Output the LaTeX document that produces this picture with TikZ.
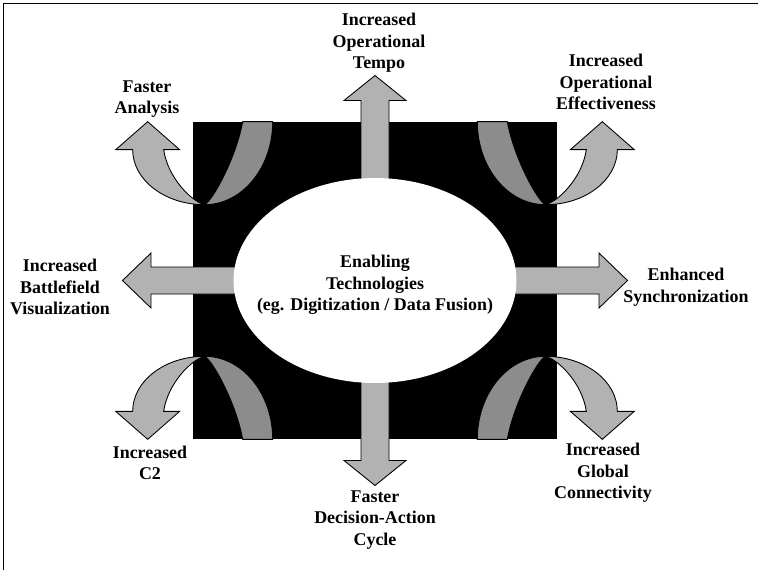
\documentclass[tikz,border=0pt]{standalone}
\usepackage{fontspec}
\setmainfont{Liberation Serif}
\usetikzlibrary{shapes.geometric}

\definecolor{arrowlight}{gray}{0.70}
\definecolor{arrowdark}{gray}{0.55}

\tikzset{
  lbl/.style={font=\bfseries\fontsize{10.2}{12.3}\selectfont, align=center},
  blockarrow/.style={draw=black, fill=arrowlight, line width=0.5pt, line join=miter},
  % ribbon arrow that leaves the panel at a corner
  twist/.pic={
    \filldraw[fill=arrowdark, draw=black, line width=0.5pt]
      (80,0) arc[start angle=0, end angle=-90, x radius=68, y radius=83]
      .. controls (19,-80) and (43,-38) .. (50,0) -- cycle;
    \filldraw[blockarrow]
      (12,-83) arc[start angle=-90, end angle=-180, x radius=72, y radius=55]
      -- (-77,-28) -- (-45,0) -- (-13,-28) -- (-29,-28)
      .. controls (-25,-56) and (-1,-80) .. (12,-83) -- cycle;
  }
}

\begin{document}
\begin{tikzpicture}[x=0.02cm, y=0.02cm]
  \useasboundingbox (0,0) rectangle (758,-569);
  % frame
  \draw[line width=1pt] (3.5,-575) -- (3.5,-3.5) -- (765,-3.5);

  % black panel
  \node[fill=black, minimum width=7.28cm, minimum height=6.34cm, inner sep=0pt] (panel) at (375,-280.5) {};

  % corner arrows
  \pic at (panel.north west) {twist};
  \pic[xscale=-1] at (panel.north east) {twist};
  \pic[yscale=-1] at (panel.south west) {twist};
  \pic[xscale=-1, yscale=-1] at (panel.south east) {twist};

  % straight arrows
  \filldraw[blockarrow] (361,-200) -- (361,-100.5) -- (344,-100.5) -- (375,-75.5) -- (406,-100.5) -- (389,-100.5) -- (389,-200) -- cycle;
  \filldraw[blockarrow] (361,-360) -- (361,-460.5) -- (344,-460.5) -- (375,-485.5) -- (406,-460.5) -- (389,-460.5) -- (389,-360) -- cycle;
  \filldraw[blockarrow] (260,-267) -- (151,-267) -- (151,-253) -- (122.5,-280.5) -- (151,-308) -- (151,-294) -- (260,-294) -- cycle;
  \filldraw[blockarrow] (490,-267) -- (599,-267) -- (599,-253) -- (627.5,-280.5) -- (599,-308) -- (599,-294) -- (490,-294) -- cycle;

  % centre
  \node[ellipse, fill=white, minimum width=5.66cm, minimum height=4.1cm, inner sep=0pt] (hub) at (375,-280.5) {};
  \node[lbl] (hubtext) at (375,-285) {Enabling\\Technologies\\(eg. Digitization / Data Fusion)};

  % labels
  \node[lbl] (analysis) at (147,-99) {Faster\\Analysis};
  \node[lbl] (tempo) at (379,-43) {Increased\\Operational\\Tempo};
  \node[lbl] (effect) at (606,-82) {Increased\\Operational\\Effectiveness};
  \node[lbl] (visual) at (60,-287) {Increased\\Battlefield\\Visualization};
  \node[lbl] (sync) at (686,-287) {Enhanced\\Synchronization};
  \node[lbl] (ctwo) at (150,-463) {Increased\\C2};
  \node[lbl] (global) at (603,-473) {Increased\\Global\\Connectivity};
  \node[lbl] (cycle) at (375,-520) {Faster\\Decision-Action\\Cycle};
\end{tikzpicture}
\end{document}
